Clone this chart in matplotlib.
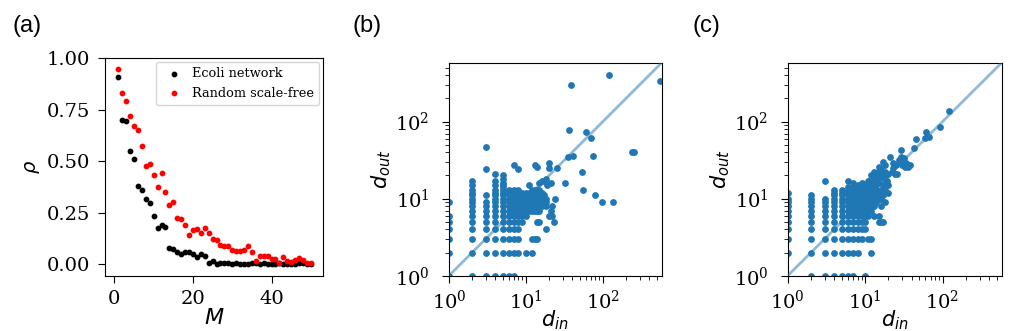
import numpy as np
import matplotlib
matplotlib.use('Agg')
import matplotlib.pyplot as plt

plt.rcParams['font.family'] = 'serif'
plt.rcParams['font.serif'] = ['DejaVu Serif']
plt.rcParams['xtick.major.size'] = 5
plt.rcParams['ytick.major.size'] = 5
plt.rcParams['xtick.minor.size'] = 3
plt.rcParams['ytick.minor.size'] = 3
plt.rcParams['xtick.major.pad'] = 5
plt.rcParams['ytick.major.pad'] = 6

# ---- panel (a): fraction rho vs M ----
M = np.arange(1, 51)
rho_ecoli = [0.91, 0.70, 0.695, 0.547, 0.51, 0.377, 0.36, 0.315, 0.296, 0.234,
             0.175, 0.19, 0.18, 0.078, 0.073, 0.058, 0.05, 0.058, 0.06, 0.05,
             0.035, 0.048, 0.038, 0.005, 0.015, 0.0, 0.003, 0.005, 0.004, 0.002,
             0.004, 0.001, 0.002, 0.0, 0.003, 0.004, 0.002, 0.003, 0.001, 0.0,
             0.002, 0.004, 0.001, 0.0, 0.002, 0.001, 0.005, 0.006, 0.001, 0.0]
rho_random = [0.946, 0.83, 0.79, 0.72, 0.668, 0.65, 0.571, 0.474, 0.487, 0.434,
              0.374, 0.442, 0.352, 0.288, 0.299, 0.223, 0.22, 0.191, 0.139, 0.166,
              0.171, 0.15, 0.175, 0.15, 0.121, 0.115, 0.094, 0.09, 0.087, 0.069,
              0.063, 0.063, 0.069, 0.09, 0.06, 0.013, 0.04, 0.038, 0.04, 0.027,
              0.023, 0.005, 0.035, 0.013, 0.01, 0.02, 0.03, 0.022, 0.005, 0.005]

# ---- panel (b): in/out degree, Ecoli network ----
cols_b = {
    1: [1, 2, 3, 4, 5, 6, 9],
    2: [1, 2, 3, 4, 5, 6, 7, 8, 9, 10, 11, 12, 13, 15, 17],
    3: [1, 2, 3, 4, 5, 6, 7, 8, 9, 11, 24, 47],
    4: [1, 2, 3, 4, 5, 6, 7, 8, 9, 10, 11, 12, 13, 15, 17, 21],
    5: [1, 2, 3, 4, 5, 6, 7, 8, 9, 10, 11, 12, 13, 14, 15, 16, 18, 20],
    6: [1, 2, 3, 4, 5, 6, 7, 8, 9, 10, 11, 12, 13],
    7: [1, 2, 3, 4, 5, 6, 7, 8, 9, 10, 11, 12, 13, 27],
    8: [2, 3, 4, 5, 6, 7, 8, 9, 10, 11, 12, 13, 24],
    9: [5, 6, 7, 8, 9, 10, 11, 12],
    10: [2, 6, 7, 8, 9, 10, 11, 12],
    11: [7, 8, 9, 10, 11, 12, 15],
    12: [2, 3, 7, 8, 9, 10, 11, 12, 13],
    13: [3, 7, 8, 9, 10, 11, 12, 13, 27],
    14: [3, 5, 7, 8, 9, 10, 11, 12, 13, 26],
    15: [5, 7, 8, 9, 10, 12, 13, 16],
    16: [8, 10, 12, 17],
    17: [10, 11, 17],
    18: [4, 8, 9, 10, 18],
}
extra_b_in = [19, 20, 20, 20, 21, 21, 22, 22, 23, 24, 25, 32, 35, 36, 38, 41, 54, 56,
              61, 70, 75, 80, 96, 121, 136, 238, 252, 560]
extra_b_out = [15, 6, 25, 29, 7, 16, 6, 8, 5, 10, 25, 16, 35, 78, 300, 36, 22, 13,
               74, 61, 36, 11, 9, 400, 9, 40, 40, 340]

# ---- panel (c): in/out degree, random scale-free ----
cols_c = {
    1: [2, 3, 4, 5, 6, 7, 8, 9, 10, 12],
    2: [1, 2, 3, 4, 5, 6, 7, 8, 9, 10, 11],
    3: [1, 2, 3, 4, 5, 6, 7, 8, 9, 10, 17],
    4: [1, 2, 3, 4, 5, 6, 7, 8, 9, 10, 11, 12, 13],
    5: [1, 2, 3, 4, 5, 6, 7, 8, 9, 10, 11, 12, 13],
    6: [1, 2, 3, 4, 5, 6, 7, 8, 9, 10, 11, 12, 13, 14, 17],
    7: [1, 2, 3, 4, 5, 6, 7, 8, 9, 10, 11, 12, 13, 14, 16],
    8: [2, 3, 4, 5, 6, 7, 8, 9, 10, 11, 12, 13, 15],
    9: [3, 4, 5, 6, 7, 8, 9, 10, 11, 12, 13, 14, 16],
    10: [1, 4, 5, 6, 7, 8, 9, 10, 11, 12, 13, 14, 15],
    11: [3, 6, 7, 8, 9, 10, 11, 12, 13, 14, 15, 17],
    12: [2, 3, 7, 8, 9, 10, 11, 12, 13, 14, 16, 18, 20],
    13: [6, 8, 9, 10, 11, 12, 13, 15, 17, 19, 22],
    14: [9, 10, 11, 13, 15, 18, 21],
    15: [5, 6, 10, 12, 16, 19, 22, 26],
    16: [5, 8, 10, 13, 19, 24],
    17: [5, 11, 15, 21, 30],
    18: [9, 13, 18, 22, 27],
}
extra_c_in = [19, 20, 20, 20, 21, 22, 23, 23, 24, 25, 26, 27, 29, 29, 30, 31, 32, 33,
              34, 36, 38, 43, 46, 59, 61, 67, 92, 120]
extra_c_out = [17, 12, 15, 21, 35, 22, 25, 29, 21, 27, 21, 32, 43, 35, 27, 31, 34, 26,
               29, 26, 27, 46, 59, 61, 73, 64, 84, 139]

d_max = 580


def flatten(cols, ex_in, ex_out):
    d_in, d_out = [], []
    for k, outs in cols.items():
        d_in += [k] * len(outs)
        d_out += outs
    return np.array(d_in + ex_in), np.array(d_out + ex_out)


fig = plt.figure(figsize=(10.16, 3.31), dpi=100)

ax1 = fig.add_axes([0.1033, 0.166, 0.2146, 0.6586])
ax1.scatter(M, rho_ecoli, s=10, color='black', label='Ecoli network')
ax1.scatter(M, rho_random, s=10, color='red', label='Random scale-free')
ax1.set_xlim(-2.4, 53.1)
ax1.set_ylim(-0.058, 1.0)
ax1.set_yticks([0, 0.25, 0.5, 0.75, 1.0])
ax1.set_xticks([0, 20, 40])
ax1.tick_params(labelsize=14)
ax1.set_xlabel(r'$M$', fontsize=16, labelpad=-1)
ax1.set_ylabel(r'$\rho$', fontsize=14, labelpad=3)
ax1.legend(loc='upper right', fontsize=9.3, handletextpad=0.4, borderpad=0.4,
           labelspacing=0.5, markerscale=1.0, borderaxespad=0.3)

for pos, (cols, ex_in, ex_out) in zip(
        [[0.4419, 0.167, 0.2093, 0.6435], [0.7753, 0.167, 0.2106, 0.6435]],
        [(cols_b, extra_b_in, extra_b_out), (cols_c, extra_c_in, extra_c_out)]):
    ax = fig.add_axes(pos)
    d_in, d_out = flatten(cols, ex_in, ex_out)
    ax.scatter(d_in, d_out, s=15, color='C0', zorder=2, clip_on=True)
    ax.plot([1, d_max], [1, d_max], color='C0', alpha=0.5, lw=2, zorder=3)
    ax.set_xscale('log')
    ax.set_yscale('log')
    ax.set_xlim(1, d_max)
    ax.set_ylim(1, d_max)
    ax.tick_params(labelsize=14)
    ax.tick_params(axis='y', which='major', pad=9)
    ax.set_xlabel(r'$d_{in}$', fontsize=15, labelpad=-3)
    ax.set_ylabel(r'$d_{out}$', fontsize=15, labelpad=1)

for x, lab in [(0.012, '(a)'), (0.347, '(b)'), (0.682, '(c)')]:
    fig.text(x, 0.921, lab, fontsize=17, family='Liberation Sans', va='center')

fig.savefig('out.png', dpi=100)
